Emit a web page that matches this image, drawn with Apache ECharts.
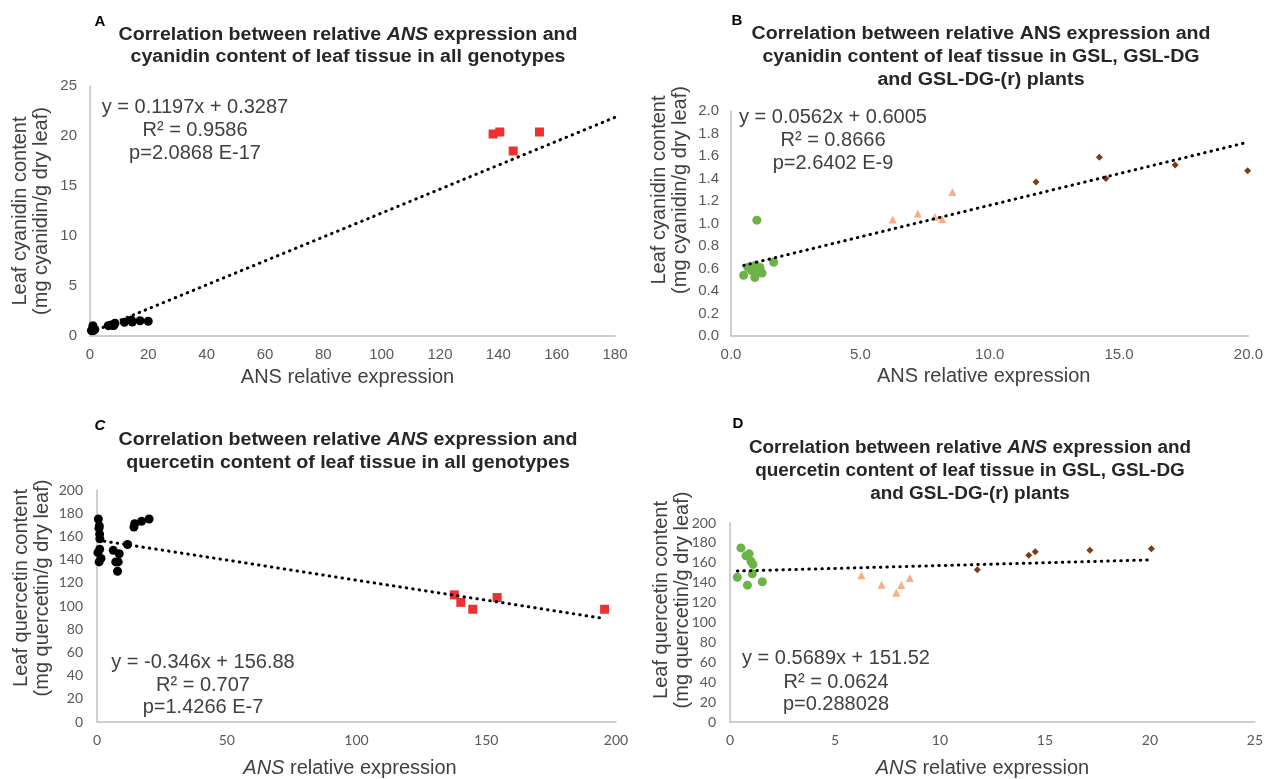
<!DOCTYPE html>
<html><head><meta charset="utf-8">
<script src="https://cdn.jsdelivr.net/npm/echarts@6/dist/echarts.min.js"></script>
<style>html,body{margin:0;padding:0;background:#fff}#c{width:1266px;height:779px}</style>
</head><body><div id="c"></div>
<script>
// ---------- Panel A (cyanidin, all genotypes) ----------
const aBlack = [[0.49,0.54],[0.65,0.61],[0.80,0.58],[0.92,0.52],[0.95,0.63],[1.00,1.03],[1.05,0.59],[1.12,0.61],[1.20,0.56],[1.65,0.655],
  [6.25,1.035],[7.22,1.09],[7.88,1.06],[8.16,1.04],[8.56,1.28],
  [11.79,1.37],[14.24,1.59],[14.49,1.40],[17.17,1.52],[19.97,1.47]];
const aRed = [[138.2,20.2],[140.5,20.4],[145.1,18.5],[154.1,20.4]];
const aTrend = [[0.35,0.37],[180,21.87]];
const aXTicks = [0,20,40,60,80,100,120,140,160,180];
const aYTicks = [0,5,10,15,20,25];
// ---------- Panel B (cyanidin, GSL / GSL-DG / GSL-DG-(r)) ----------
const bGreen = [[0.49,0.54],[0.65,0.61],[0.80,0.58],[0.92,0.52],[0.95,0.63],[1.00,1.03],[1.05,0.59],[1.12,0.61],[1.20,0.56],[1.65,0.655]];
const bOrange = [[6.25,1.035],[7.22,1.09],[7.88,1.06],[8.16,1.04],[8.56,1.28]];
const bBrown = [[11.79,1.37],[14.24,1.59],[14.49,1.40],[17.17,1.52],[19.97,1.47]];
const bTrend = [[0.49,0.628],[20,1.724]];
const bXTicks = [0,5,10,15,20];
const bYTicks = [0,0.2,0.4,0.6,0.8,1.0,1.2,1.4,1.6,1.8,2.0];
// ---------- Panel C (quercetin, all genotypes) ----------
const cBlack = [[0.52,175],[0.90,169],[0.77,167],[1.01,162],[1.09,158],[1.04,149],[0.35,146],[1.53,141],[0.82,138],
  [6.26,148],[7.22,138],[7.92,130],[8.16,138],[8.56,145],
  [11.78,153],[14.23,168],[14.54,171],[17.14,173],[20.07,175]];
const cRed = [[137.7,109.6],[140.2,103.1],[144.8,97.2],[154.2,107.3],[195.6,97.2]];
const cTrend = [[0.35,156.76],[195.6,89.2]];
const cXTicks = [0,50,100,150,200];
const cYTicks = [0,20,40,60,80,100,120,140,160,180,200];
// ---------- Panel D (quercetin, GSL / GSL-DG / GSL-DG-(r)) ----------
const dGreen = [[0.52,175],[0.35,145.5],[0.76,167],[0.91,169],[0.83,137.5],[1.00,161.6],[1.09,158.4],[1.06,149],[1.54,141]];
const dOrange = [[6.26,147.5],[7.22,138],[7.92,130],[8.16,137.7],[8.56,144.6]];
const dBrown = [[11.78,153],[14.23,167.5],[14.54,171],[17.14,172.5],[20.07,174.2]];
const dTrend = [[0.35,151.72],[20.07,162.94]];
const dXTicks = [0,5,10,15,20,25];
const dYTicks = [0,20,40,60,80,100,120,140,160,180,200];
// ---------- texts ----------
const titlesA = ['{b|Correlation between relative }{bi|ANS}{b| expression and}','{b|cyanidin content of leaf tissue in all genotypes}'];
const titlesB = ['{b|Correlation between relative ANS expression and}','{b|cyanidin content of leaf tissue in GSL, GSL-DG}','{b|and GSL-DG-(r) plants}'];
const titlesC = ['{b|Correlation between relative }{bi|ANS}{b| expression and}','{b|quercetin content of leaf tissue in all genotypes}'];
const titlesD = ['{b|Correlation between relative }{bi|ANS}{b| expression and}','{b|quercetin content of leaf tissue in GSL, GSL-DG}','{b|and GSL-DG-(r) plants}'];
const eqA = ['y = 0.1197x + 0.3287','R² = 0.9586','p=2.0868 E-17'];
const eqB = ['y = 0.0562x + 0.6005','R² = 0.8666','p=2.6402 E-9'];
const eqC = ['y = -0.346x + 156.88','R² = 0.707','p=1.4266 E-7'];
const eqD = ['y = 0.5689x + 151.52','R² = 0.0624','p=0.288028'];
const yNameCy = 'Leaf cyanidin content\n(mg cyanidin/g dry leaf)';
const yNameQu = 'Leaf quercetin content\n(mg quercetin/g dry leaf)';

const ARIAL = "'Liberation Sans', Arial, sans-serif";
const NARROW = "Lato, 'Liberation Sans', sans-serif";
const TICK = '#595959', NAME = '#404040';
const GREEN = '#6ab344', ORANGE = '#f8ae86', BROWN = '#7f3a12', RED = '#ee3030';

function xAxis(gi, ticks, fmt, font, fs, name, gap, padR) {
  return {type:'value', gridIndex:gi, min:ticks[0], max:ticks[ticks.length-1], interval:ticks[1]-ticks[0],
    axisLine:{show:true, lineStyle:{color:'#c0c0c0', width:1.5}}, axisTick:{show:false}, splitLine:{show:false},
    axisLabel:{color:TICK, fontFamily:font, fontSize:fs, margin:11, formatter:fmt},
    name:name, nameLocation:'middle', nameGap:gap,
    nameTextStyle:{color:NAME, fontFamily:ARIAL, fontSize:20, padding:[0,padR,0,0],
      rich:{i:{fontStyle:'italic', color:NAME, fontFamily:ARIAL, fontSize:20}}}};
}
function yAxis(gi, ticks, fmt, font, fs, margin) {
  return {type:'value', gridIndex:gi, min:ticks[0], max:ticks[ticks.length-1], interval:ticks[1]-ticks[0],
    axisLine:{show:true, lineStyle:{color:'#c0c0c0', width:1.5}}, axisTick:{show:false}, splitLine:{show:false},
    axisLabel:{color:TICK, fontFamily:font, fontSize:fs, margin:margin, formatter:fmt}};
}
const f1 = v => Number(v).toFixed(1);
const f0 = v => String(Math.round(v));

function sc(gi, data, symbol, size, color) {
  return {type:'scatter', xAxisIndex:gi, yAxisIndex:gi, data:data, symbol:symbol, symbolSize:size,
    itemStyle:{color:color, opacity:1}, z:2, silent:true};
}
function trend(gi, data) {
  return {type:'line', xAxisIndex:gi, yAxisIndex:gi, data:data, showSymbol:false, symbol:'none', z:3, silent:true,
    lineStyle:{color:'#000', width:3, type:[0.5,6], cap:'round'}};
}
const richT = {b:{fontFamily:ARIAL, fontWeight:'bold', fontSize:18, fill:'#262626', color:'#262626'},
               bi:{fontFamily:ARIAL, fontWeight:'bold', fontStyle:'italic', fontSize:18, fill:'#262626', color:'#262626'}};
function titleLines(lines, cx, y0, dy, sx) {
  return lines.map((t,i) => ({type:'text', x:cx, y:y0+i*dy, scaleX:sx, silent:true,
    style:{text:t, rich:richT, textAlign:'center', align:'center', textVerticalAlign:'middle', verticalAlign:'middle',
      fontFamily:ARIAL, fontWeight:'bold', fontSize:18, fill:'#262626'}}));
}
function eqLines(lines, cx, ys) {
  return lines.map((t,i) => ({type:'text', x:cx, y:ys[i], silent:true,
    style:{text:t, textAlign:'center', align:'center', textVerticalAlign:'middle', verticalAlign:'middle',
      fontFamily:ARIAL, fontSize:20, fill:NAME}}));
}
function letter(t, x, y, italic) {
  return {type:'text', x:x, y:y, silent:true, style:{text:t, textAlign:'center', align:'center', textVerticalAlign:'middle', verticalAlign:'middle',
    fontFamily:ARIAL, fontWeight:'bold', fontStyle: italic?'italic':'normal', fontSize:15, fill:'#000'}};
}
function yName(t, x, y) {
  return {type:'text', x:x, y:y, rotation:Math.PI/2, silent:true,
    style:{text:t, textAlign:'center', align:'center', textVerticalAlign:'middle', verticalAlign:'middle',
      fontFamily:ARIAL, fontSize:20, lineHeight:21, fill:NAME}};
}

const chart = echarts.init(document.getElementById('c'), null, {renderer:'canvas'});
chart.setOption({
  animation:false,
  backgroundColor:'#ffffff',
  grid:[
    {left:90, top:86, width:525, height:250},
    {left:731, top:111, width:520, height:225},
    {left:97, top:490, width:519, height:236},
    {left:730, top:523, width:526, height:203}
  ],
  xAxis:[
    xAxis(0, aXTicks, f0, ARIAL, 15, 'ANS relative expression', 31, 10),
    xAxis(1, bXTicks, f1, ARIAL, 15, 'ANS relative expression', 30, 12),
    xAxis(2, cXTicks, f0, NARROW, 14, '{i|ANS} relative expression', 36, 13),
    xAxis(3, dXTicks, f0, NARROW, 14, '{i|ANS} relative expression', 36, 20)
  ],
  yAxis:[
    yAxis(0, aYTicks, f0, ARIAL, 15, 13),
    yAxis(1, bYTicks, f1, ARIAL, 15, 12),
    yAxis(2, cYTicks, f0, NARROW, 14, 14),
    yAxis(3, dYTicks, f0, NARROW, 14, 14)
  ],
  series:[
    sc(0, aBlack, 'circle', 9, '#000'),
    sc(0, aRed, 'rect', 9, RED),
    trend(0, aTrend),
    sc(1, bGreen, 'circle', 9, GREEN),
    sc(1, bOrange, 'triangle', 8, ORANGE),
    sc(1, bBrown, 'diamond', 7, BROWN),
    trend(1, bTrend),
    sc(2, cBlack, 'circle', 9, '#000'),
    sc(2, cRed, 'rect', 9, RED),
    trend(2, cTrend),
    sc(3, dGreen, 'circle', 9, GREEN),
    sc(3, dOrange, 'triangle', 8, ORANGE),
    sc(3, dBrown, 'diamond', 7, BROWN),
    trend(3, dTrend)
  ],
  graphic:{elements:[].concat(
    titleLines(titlesA, 348, 35, 22, 1.09),
    titleLines(titlesB, 981, 34, 23, 1.09),
    titleLines(titlesC, 348, 440, 23, 1.09),
    titleLines(titlesD, 970, 448, 23, 1.05),
    [letter('A', 100, 22, false), letter('B', 737, 21, false), letter('C', 100, 426, true), letter('D', 738, 424, false)],
    eqLines(eqA, 195, [107,130,153]),
    eqLines(eqB, 833, [117,140,163]),
    eqLines(eqC, 203, [662,685,707]),
    eqLines(eqD, 836, [658,682,704]),
    [yName(yNameCy, 31, 211), yName(yNameCy, 670, 190), yName(yNameQu, 32, 588), yName(yNameQu, 672, 600)]
  )}
});
</script>
</body></html>
